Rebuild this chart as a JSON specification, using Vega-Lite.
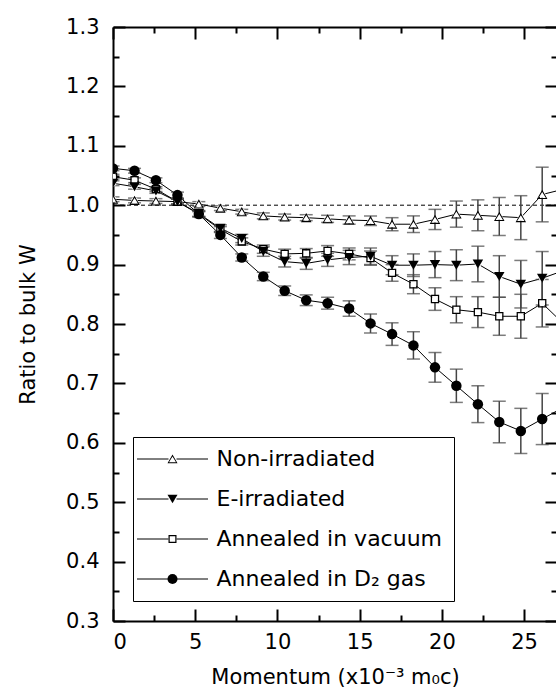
{
  "$schema": "https://vega.github.io/schema/vega-lite/v6.json",
  "width": 444,
  "height": 594,
  "autosize": {"type": "none"},
  "padding": {"left": 113, "top": 27, "right": 0, "bottom": 70},
  "background": "white",
  "config": {
    "view": {"stroke": null},
    "font": "DejaVu Sans",
    "axis": {
      "grid": false,
      "domainColor": "black",
      "tickColor": "black",
      "labelColor": "black",
      "titleColor": "black",
      "domainWidth": 2,
      "tickWidth": 2,
      "labelFont": "DejaVu Sans",
      "titleFont": "DejaVu Sans",
      "labelFontSize": 21,
      "titleFontSize": 21,
      "titleFontWeight": "normal"
    }
  },
  "data": {
    "values": [
      {"s": "Non-irradiated", "k": 1, "x": 0, "y": 1.010, "e": 0.004},
      {"s": "Non-irradiated", "k": 1, "x": 1.31, "y": 1.008, "e": 0.004},
      {"s": "Non-irradiated", "k": 1, "x": 2.61, "y": 1.007, "e": 0.004},
      {"s": "Non-irradiated", "k": 1, "x": 3.92, "y": 1.006, "e": 0.004},
      {"s": "Non-irradiated", "k": 1, "x": 5.22, "y": 1.002, "e": 0.004},
      {"s": "Non-irradiated", "k": 1, "x": 6.53, "y": 0.995, "e": 0.004},
      {"s": "Non-irradiated", "k": 1, "x": 7.83, "y": 0.989, "e": 0.004},
      {"s": "Non-irradiated", "k": 1, "x": 9.14, "y": 0.982, "e": 0.005},
      {"s": "Non-irradiated", "k": 1, "x": 10.44, "y": 0.980, "e": 0.005},
      {"s": "Non-irradiated", "k": 1, "x": 11.75, "y": 0.979, "e": 0.005},
      {"s": "Non-irradiated", "k": 1, "x": 13.05, "y": 0.977, "e": 0.006},
      {"s": "Non-irradiated", "k": 1, "x": 14.36, "y": 0.975, "e": 0.007},
      {"s": "Non-irradiated", "k": 1, "x": 15.66, "y": 0.974, "e": 0.008},
      {"s": "Non-irradiated", "k": 1, "x": 16.97, "y": 0.968, "e": 0.011},
      {"s": "Non-irradiated", "k": 1, "x": 18.27, "y": 0.968, "e": 0.014},
      {"s": "Non-irradiated", "k": 1, "x": 19.58, "y": 0.976, "e": 0.017},
      {"s": "Non-irradiated", "k": 1, "x": 20.88, "y": 0.985, "e": 0.022},
      {"s": "Non-irradiated", "k": 1, "x": 22.19, "y": 0.983, "e": 0.026},
      {"s": "Non-irradiated", "k": 1, "x": 23.49, "y": 0.981, "e": 0.032},
      {"s": "Non-irradiated", "k": 1, "x": 24.8, "y": 0.979, "e": 0.037},
      {"s": "Non-irradiated", "k": 1, "x": 26.1, "y": 1.018, "e": 0.046},
      {"s": "Non-irradiated", "k": 1, "x": 27.41, "y": 1.027, "e": 0.05},
      {"s": "E-irradiated", "k": 2, "x": 0, "y": 1.037, "e": 0.004},
      {"s": "E-irradiated", "k": 2, "x": 1.31, "y": 1.031, "e": 0.004},
      {"s": "E-irradiated", "k": 2, "x": 2.61, "y": 1.024, "e": 0.004},
      {"s": "E-irradiated", "k": 2, "x": 3.92, "y": 1.006, "e": 0.005},
      {"s": "E-irradiated", "k": 2, "x": 5.22, "y": 0.986, "e": 0.005},
      {"s": "E-irradiated", "k": 2, "x": 6.53, "y": 0.961, "e": 0.006},
      {"s": "E-irradiated", "k": 2, "x": 7.83, "y": 0.944, "e": 0.007},
      {"s": "E-irradiated", "k": 2, "x": 9.14, "y": 0.922, "e": 0.008},
      {"s": "E-irradiated", "k": 2, "x": 10.44, "y": 0.905, "e": 0.009},
      {"s": "E-irradiated", "k": 2, "x": 11.75, "y": 0.902, "e": 0.010},
      {"s": "E-irradiated", "k": 2, "x": 13.05, "y": 0.908, "e": 0.011},
      {"s": "E-irradiated", "k": 2, "x": 14.36, "y": 0.912, "e": 0.012},
      {"s": "E-irradiated", "k": 2, "x": 15.66, "y": 0.914, "e": 0.014},
      {"s": "E-irradiated", "k": 2, "x": 16.97, "y": 0.899, "e": 0.016},
      {"s": "E-irradiated", "k": 2, "x": 18.27, "y": 0.899, "e": 0.019},
      {"s": "E-irradiated", "k": 2, "x": 19.58, "y": 0.900, "e": 0.022},
      {"s": "E-irradiated", "k": 2, "x": 20.88, "y": 0.899, "e": 0.026},
      {"s": "E-irradiated", "k": 2, "x": 22.19, "y": 0.901, "e": 0.030},
      {"s": "E-irradiated", "k": 2, "x": 23.49, "y": 0.880, "e": 0.035},
      {"s": "E-irradiated", "k": 2, "x": 24.8, "y": 0.867, "e": 0.040},
      {"s": "E-irradiated", "k": 2, "x": 26.1, "y": 0.877, "e": 0.045},
      {"s": "E-irradiated", "k": 2, "x": 27.41, "y": 0.890, "e": 0.05},
      {"s": "Annealed in vacuum", "k": 3, "x": 0, "y": 1.048, "e": 0.004},
      {"s": "Annealed in vacuum", "k": 3, "x": 1.31, "y": 1.042, "e": 0.004},
      {"s": "Annealed in vacuum", "k": 3, "x": 2.61, "y": 1.027, "e": 0.004},
      {"s": "Annealed in vacuum", "k": 3, "x": 3.92, "y": 1.006, "e": 0.004},
      {"s": "Annealed in vacuum", "k": 3, "x": 5.22, "y": 0.985, "e": 0.004},
      {"s": "Annealed in vacuum", "k": 3, "x": 6.53, "y": 0.959, "e": 0.005},
      {"s": "Annealed in vacuum", "k": 3, "x": 7.83, "y": 0.939, "e": 0.006},
      {"s": "Annealed in vacuum", "k": 3, "x": 9.14, "y": 0.926, "e": 0.007},
      {"s": "Annealed in vacuum", "k": 3, "x": 10.44, "y": 0.918, "e": 0.008},
      {"s": "Annealed in vacuum", "k": 3, "x": 11.75, "y": 0.919, "e": 0.008},
      {"s": "Annealed in vacuum", "k": 3, "x": 13.05, "y": 0.923, "e": 0.009},
      {"s": "Annealed in vacuum", "k": 3, "x": 14.36, "y": 0.918, "e": 0.010},
      {"s": "Annealed in vacuum", "k": 3, "x": 15.66, "y": 0.911, "e": 0.012},
      {"s": "Annealed in vacuum", "k": 3, "x": 16.97, "y": 0.886, "e": 0.014},
      {"s": "Annealed in vacuum", "k": 3, "x": 18.27, "y": 0.867, "e": 0.016},
      {"s": "Annealed in vacuum", "k": 3, "x": 19.58, "y": 0.842, "e": 0.019},
      {"s": "Annealed in vacuum", "k": 3, "x": 20.88, "y": 0.824, "e": 0.022},
      {"s": "Annealed in vacuum", "k": 3, "x": 22.19, "y": 0.820, "e": 0.026},
      {"s": "Annealed in vacuum", "k": 3, "x": 23.49, "y": 0.813, "e": 0.032},
      {"s": "Annealed in vacuum", "k": 3, "x": 24.8, "y": 0.813, "e": 0.037},
      {"s": "Annealed in vacuum", "k": 3, "x": 26.1, "y": 0.835, "e": 0.040},
      {"s": "Annealed in vacuum", "k": 3, "x": 27.41, "y": 0.800, "e": 0.042},
      {"s": "Annealed in D₂ gas", "k": 4, "x": 0, "y": 1.062, "e": 0.004},
      {"s": "Annealed in D₂ gas", "k": 4, "x": 1.31, "y": 1.058, "e": 0.004},
      {"s": "Annealed in D₂ gas", "k": 4, "x": 2.61, "y": 1.042, "e": 0.004},
      {"s": "Annealed in D₂ gas", "k": 4, "x": 3.92, "y": 1.017, "e": 0.005},
      {"s": "Annealed in D₂ gas", "k": 4, "x": 5.22, "y": 0.985, "e": 0.005},
      {"s": "Annealed in D₂ gas", "k": 4, "x": 6.53, "y": 0.950, "e": 0.006},
      {"s": "Annealed in D₂ gas", "k": 4, "x": 7.83, "y": 0.912, "e": 0.006},
      {"s": "Annealed in D₂ gas", "k": 4, "x": 9.14, "y": 0.880, "e": 0.007},
      {"s": "Annealed in D₂ gas", "k": 4, "x": 10.44, "y": 0.856, "e": 0.008},
      {"s": "Annealed in D₂ gas", "k": 4, "x": 11.75, "y": 0.840, "e": 0.009},
      {"s": "Annealed in D₂ gas", "k": 4, "x": 13.05, "y": 0.835, "e": 0.010},
      {"s": "Annealed in D₂ gas", "k": 4, "x": 14.36, "y": 0.826, "e": 0.013},
      {"s": "Annealed in D₂ gas", "k": 4, "x": 15.66, "y": 0.801, "e": 0.016},
      {"s": "Annealed in D₂ gas", "k": 4, "x": 16.97, "y": 0.783, "e": 0.019},
      {"s": "Annealed in D₂ gas", "k": 4, "x": 18.27, "y": 0.764, "e": 0.023},
      {"s": "Annealed in D₂ gas", "k": 4, "x": 19.58, "y": 0.727, "e": 0.025},
      {"s": "Annealed in D₂ gas", "k": 4, "x": 20.88, "y": 0.696, "e": 0.028},
      {"s": "Annealed in D₂ gas", "k": 4, "x": 22.19, "y": 0.665, "e": 0.031},
      {"s": "Annealed in D₂ gas", "k": 4, "x": 23.49, "y": 0.635, "e": 0.035},
      {"s": "Annealed in D₂ gas", "k": 4, "x": 24.8, "y": 0.620, "e": 0.038},
      {"s": "Annealed in D₂ gas", "k": 4, "x": 26.1, "y": 0.640, "e": 0.043},
      {"s": "Annealed in D₂ gas", "k": 4, "x": 27.41, "y": 0.660, "e": 0.045}
    ]
  },
  "layer": [
    {
      "mark": {"type": "line", "color": "black", "strokeWidth": 1, "clip": true},
      "encoding": {
        "x": {
          "field": "x", "type": "quantitative",
          "scale": {"domain": [0, 27], "nice": false, "zero": false},
          "axis": {"orient": "bottom", "values": [0, 5, 10, 15, 20, 25], "tickSize": -12, "labelPadding": 22, "titlePadding": 14, "title": "Momentum (x10⁻³ m₀c)"}
        },
        "y": {
          "field": "y", "type": "quantitative",
          "scale": {"domain": [0.3, 1.3], "nice": false, "zero": false},
          "axis": {"orient": "left", "values": [0.3, 0.4, 0.5, 0.6, 0.7, 0.8, 0.9, 1.0, 1.1, 1.2, 1.3], "format": ".1f", "tickSize": -12, "labelPadding": 26, "titlePadding": 27, "title": "Ratio to bulk W"}
        },
        "stroke": {
          "field": "s", "type": "nominal",
          "scale": {"domain": ["Non-irradiated", "E-irradiated", "Annealed in vacuum", "Annealed in D₂ gas"], "range": ["black", "black", "black", "black"]},
          "legend": {
            "orient": "none", "legendX": 20, "legendY": 410, "title": null,
            "symbolType": "M-7.1,0L-0.8,0M0.8,0L7.1,0", "symbolSize": 100, "symbolStrokeWidth": 1, "symbolStrokeColor": "black",
            "labelFontSize": 22, "labelFont": "DejaVu Sans", "labelOpacity": 0, "labelLimit": 0,
            "padding": 11, "rowPadding": 18, "symbolOffset": 17.5, "labelOffset": 33
          }
        }
      }
    },
    {
      "data": {"values": [{}]},
      "mark": {"type": "rule", "color": "black", "strokeWidth": 1, "strokeDash": [4, 3]},
      "encoding": {
        "x": {"datum": 0, "type": "quantitative", "axis": {"orient": "bottom", "values": [2.5, 7.5, 12.5, 17.5, 22.5], "tickSize": -6, "labels": false, "domain": false, "title": null}},
        "x2": {"datum": 27},
        "y": {"datum": 1, "type": "quantitative", "axis": {"orient": "left", "values": [0.35, 0.45, 0.55, 0.65, 0.75, 0.85, 0.95, 1.05, 1.15, 1.25], "tickSize": -6, "labels": false, "domain": false, "title": null}}
      }
    },
    {
      "mark": {"type": "errorbar", "color": "#444444", "thickness": 1.5, "ticks": {"size": 13, "thickness": 1.5}, "clip": true},
      "encoding": {
        "x": {"field": "x", "type": "quantitative", "axis": {"orient": "top", "values": [2.5, 7.5, 12.5, 17.5, 22.5], "tickSize": -6, "labels": false, "domain": false, "title": null}},
        "y": {"field": "y", "type": "quantitative", "axis": {"orient": "right", "values": [0.35, 0.45, 0.55, 0.65, 0.75, 0.85, 0.95, 1.05, 1.15, 1.25], "tickSize": -6, "labels": false, "domain": false, "title": null}},
        "yError": {"field": "e"}
      }
    },
    {
      "mark": {"type": "point", "shape": "circle", "size": 40, "filled": true, "color": "white", "opacity": 1, "strokeWidth": 0, "clip": true},
      "encoding": {
        "x": {"field": "x", "type": "quantitative", "axis": null},
        "y": {"field": "y", "type": "quantitative", "axis": null}
      }
    },
    {
      "mark": {"type": "point", "size": 110, "filled": true, "color": "black", "opacity": 1, "strokeWidth": 0, "clip": true},
      "encoding": {
        "x": {"field": "x", "type": "quantitative", "axis": {"orient": "top", "values": [0, 5, 10, 15, 20, 25], "tickSize": -12, "labels": false, "title": null}},
        "y": {"field": "y", "type": "quantitative", "axis": {"orient": "right", "values": [0.3, 0.4, 0.5, 0.6, 0.7, 0.8, 0.9, 1.0, 1.1, 1.2, 1.3], "tickSize": -12, "labels": false, "title": null}},
        "shape": {
          "field": "s", "type": "nominal", "sort": {"field": "k", "op": "min"},
          "scale": {"range": [
            "M0,-0.9L1,0.85L-1,0.85ZM0,-0.48L-0.7,0.65L0.7,0.65Z",
            "triangle-down",
            "M-0.8,-0.8H0.8V0.8H-0.8ZM-0.56,-0.56V0.56H0.56V-0.56Z",
            "circle"
          ]},
          "legend": {
            "orient": "none", "legendX": 20, "legendY": 410, "title": null,
            "symbolSize": 100, "symbolStrokeWidth": 0, "symbolFillColor": "black",
            "labelFontSize": 22, "labelFont": "DejaVu Sans", "labelColor": "black", "labelLimit": 0,
            "padding": 11, "rowPadding": 18, "symbolOffset": 17.5, "labelOffset": 33,
            "strokeColor": "black"
          }
        }
      }
    }
  ],
  "resolve": {"axis": {"x": "independent", "y": "independent"}}
}
